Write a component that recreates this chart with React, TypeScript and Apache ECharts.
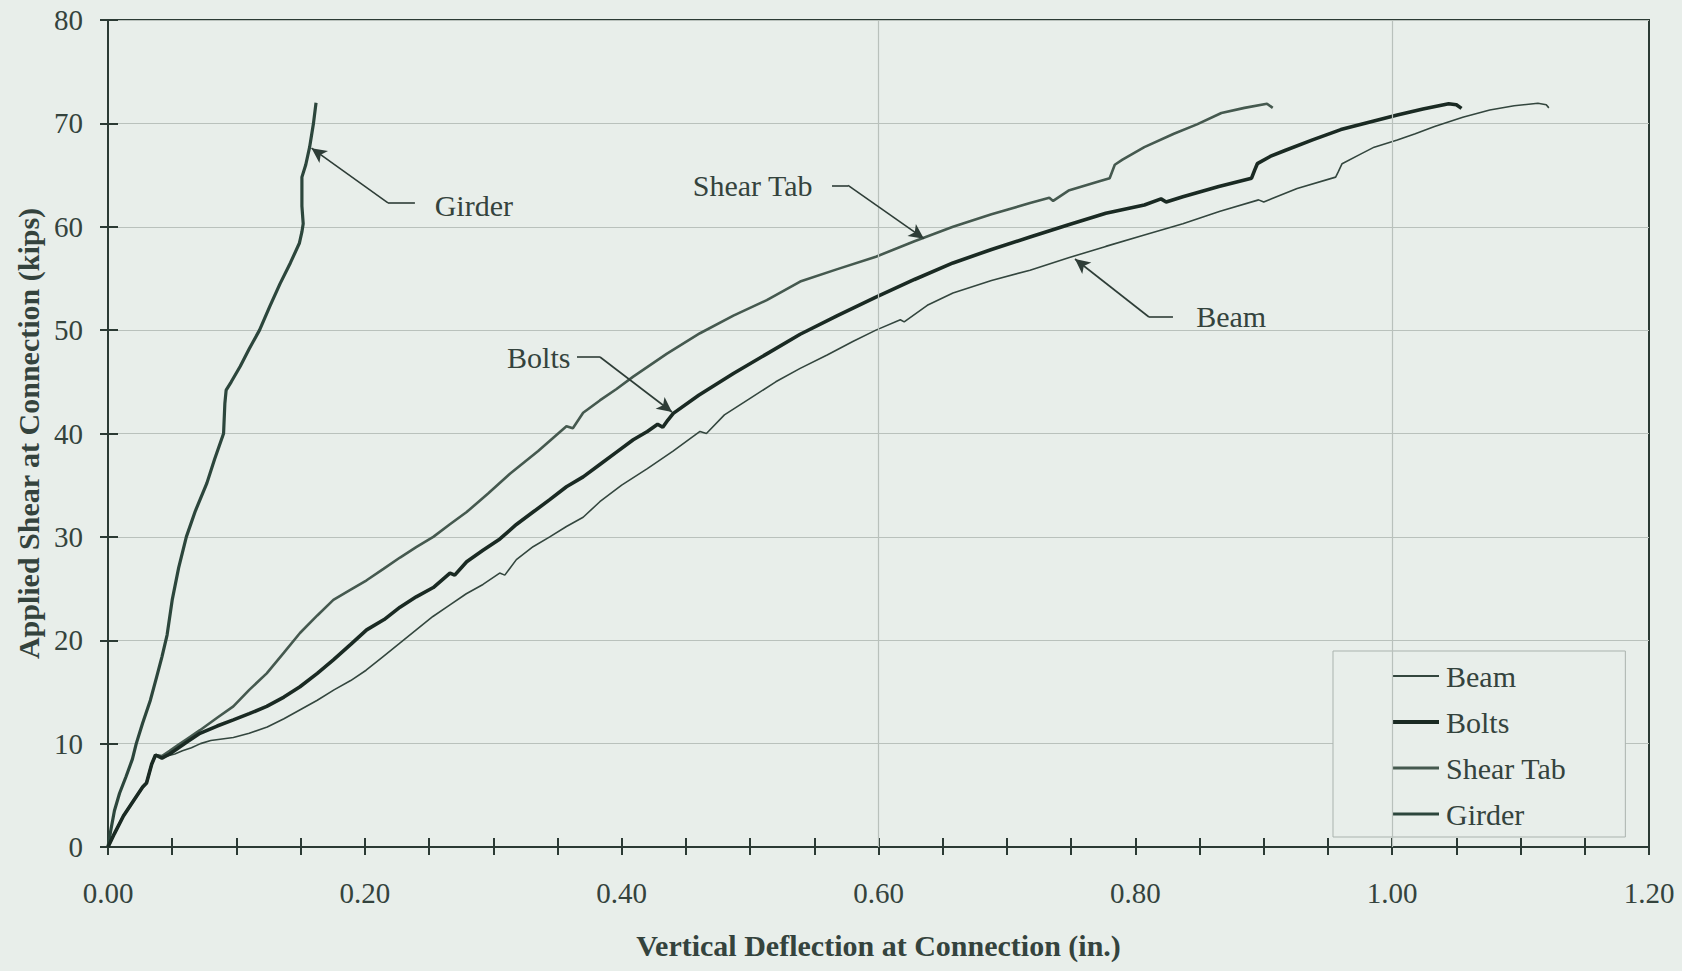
import React, { useEffect, useRef } from "react";
import * as echarts from "echarts";

// ---- axis settings ----
const X_MIN = 0;
const X_MAX = 1.2;
const X_STEP = 0.2;
const Y_MIN = 0;
const Y_MAX = 80;
const Y_STEP = 10;
const X_NAME = "Vertical Deflection at Connection (in.)";
const Y_NAME = "Applied Shear at Connection (kips)";
const SERIES_NAMES = ["Beam", "Bolts", "Shear Tab", "Girder"];
const V_GRID_AT = [0.6, 1.0];

// ---- data: [deflection (in.), shear (kips)] ----
const BEAM: number[][] = [
  [0, 0], [0.005, 1.3], [0.012, 3], [0.02, 4.5], [0.027, 5.8], [0.03, 6.2], [0.034, 8.0], [0.037, 8.9],
  [0.042, 8.6], [0.046, 8.8], [0.052, 9.0], [0.058, 9.3], [0.065, 9.6], [0.072, 10.0], [0.08, 10.3],
  [0.0976, 10.6], [0.11, 11.0], [0.124, 11.6], [0.137, 12.4], [0.15, 13.3], [0.163, 14.2], [0.176, 15.2],
  [0.189, 16.1], [0.201, 17.1], [0.214, 18.4], [0.227, 19.7], [0.24, 21.0], [0.253, 22.3], [0.266, 23.4],
  [0.279, 24.5], [0.292, 25.4], [0.305, 26.5], [0.309, 26.3], [0.318, 27.8], [0.331, 29.05], [0.344, 30.0],
  [0.357, 31.0], [0.37, 31.9], [0.383, 33.4], [0.4, 35.0], [0.42, 36.6], [0.44, 38.3], [0.461, 40.2],
  [0.466, 40.0], [0.48, 41.8], [0.5, 43.4], [0.52, 45.0], [0.539, 46.3], [0.56, 47.6], [0.58, 48.9],
  [0.598, 50.0], [0.617, 51.0], [0.62, 50.8], [0.638, 52.4], [0.658, 53.6], [0.688, 54.8], [0.718, 55.8],
  [0.748, 57.0], [0.777, 58.1], [0.807, 59.2], [0.837, 60.3], [0.866, 61.5], [0.896, 62.6], [0.9, 62.4],
  [0.926, 63.7], [0.956, 64.8], [0.958, 65.3], [0.961, 66.1], [0.975, 67.0], [0.986, 67.7], [1.004, 68.4],
  [1.018, 69.0], [1.033, 69.7], [1.055, 70.6], [1.076, 71.3], [1.095, 71.7], [1.1135, 71.94], [1.12, 71.8],
  [1.122, 71.5],
];

const BOLTS: number[][] = [
  [0, 0], [0.005, 1.3], [0.012, 3], [0.02, 4.5], [0.027, 5.8], [0.03, 6.2], [0.034, 8.0], [0.037, 8.9],
  [0.042, 8.6], [0.048, 9.0], [0.055, 9.6], [0.062, 10.2], [0.0716, 11.0], [0.085, 11.7], [0.0976, 12.3],
  [0.11, 12.9], [0.1236, 13.6], [0.137, 14.5], [0.1495, 15.5], [0.163, 16.8], [0.1755, 18.1], [0.189, 19.6],
  [0.2014, 21.0], [0.215, 22.0], [0.2274, 23.2], [0.24, 24.2], [0.2533, 25.1], [0.2663, 26.5], [0.27, 26.3],
  [0.2793, 27.6], [0.292, 28.7], [0.3052, 29.8], [0.318, 31.2], [0.331, 32.4], [0.344, 33.6], [0.357, 34.85],
  [0.37, 35.8], [0.383, 37.0], [0.396, 38.2], [0.409, 39.4], [0.42, 40.2], [0.428, 40.9], [0.432, 40.6],
  [0.436, 41.3], [0.4402, 41.95], [0.46, 43.7], [0.487, 45.8], [0.513, 47.7], [0.539, 49.6], [0.568, 51.4],
  [0.598, 53.2], [0.628, 54.9], [0.658, 56.5], [0.688, 57.8], [0.718, 59.0], [0.748, 60.2], [0.777, 61.3],
  [0.807, 62.1], [0.82, 62.7], [0.824, 62.4], [0.837, 62.9], [0.865, 63.9], [0.8905, 64.7], [0.893, 65.5],
  [0.895, 66.1], [0.905, 66.8], [0.917, 67.4], [0.938, 68.4], [0.96, 69.4], [0.982, 70.1], [1.004, 70.8],
  [1.024, 71.4], [1.044, 71.9], [1.05, 71.8], [1.054, 71.45],
];

const SHEAR_TAB: number[][] = [
  [0, 0], [0.005, 1.3], [0.012, 3], [0.02, 4.5], [0.027, 5.8], [0.03, 6.2], [0.034, 8.0], [0.037, 8.9],
  [0.042, 8.8], [0.048, 9.3], [0.055, 9.9], [0.062, 10.5], [0.0716, 11.3], [0.085, 12.5], [0.0976, 13.6],
  [0.11, 15.2], [0.1236, 16.8], [0.137, 18.8], [0.1495, 20.7], [0.163, 22.4], [0.1755, 23.9], [0.189, 24.9],
  [0.2014, 25.8], [0.2145, 26.9], [0.2274, 28.0], [0.24, 29.0], [0.2533, 30.0], [0.266, 31.2], [0.2793, 32.4],
  [0.296, 34.2], [0.313, 36.1], [0.335, 38.3], [0.357, 40.7], [0.362, 40.5], [0.37, 42.0], [0.383, 43.2],
  [0.396, 44.3], [0.409, 45.5], [0.435, 47.7], [0.461, 49.7], [0.487, 51.4], [0.513, 52.9], [0.539, 54.7],
  [0.568, 55.9], [0.598, 57.1], [0.628, 58.6], [0.658, 60.0], [0.688, 61.2], [0.718, 62.3], [0.733, 62.8],
  [0.736, 62.5], [0.748, 63.5], [0.772, 64.4], [0.78, 64.7], [0.784, 66.0], [0.79, 66.5], [0.807, 67.7],
  [0.83, 69.0], [0.848, 69.9], [0.867, 71.0], [0.885, 71.5], [0.9025, 71.9], [0.907, 71.5],
];

const GIRDER: number[][] = [
  [0, 0], [0.002, 1.5], [0.005, 3.5], [0.009, 5.2], [0.014, 6.8], [0.019, 8.5], [0.022, 10], [0.027, 12],
  [0.033, 14.2], [0.038, 16.5], [0.042, 18.4], [0.046, 20.5], [0.05, 23.9], [0.055, 27], [0.061, 30],
  [0.068, 32.5], [0.077, 35.2], [0.083, 37.5], [0.09, 40], [0.091, 42.9], [0.092, 44.2], [0.096, 45],
  [0.103, 46.5], [0.11, 48.2], [0.118, 50], [0.126, 52.3], [0.134, 54.5], [0.142, 56.5], [0.149, 58.4],
  [0.151, 59.5], [0.152, 60.3], [0.151, 62], [0.151, 64.8], [0.154, 66], [0.157, 67.7], [0.16, 70],
  [0.162, 72],
];

// ---- annotations (data space) ----
const ANNO_TEXT = ["Girder", "Shear Tab", "Bolts", "Beam"];
const ANNO_TEXT_AT: number[][] = [[0.254, 62.1], [0.549, 64.0], [0.3605, 47.4], [0.847, 51.3]];
const ANNO_TEXT_SIDE = ["right", "left", "left", "right"];
const ANNO_LEAD_START: number[][] = [[0.239, 62.3], [0.5638, 64.0], [0.3652, 47.4], [0.8293, 51.27]];
const ANNO_BEND: number[][] = [[0.218, 62.3], [0.5763, 64.0], [0.3831, 47.4], [0.8106, 51.27]];
const ANNO_TIP: number[][] = [[0.1585, 67.6], [0.6354, 58.85], [0.4392, 42.08], [0.753, 56.88]];

const FONT = '"Liberation Serif", "Times New Roman", serif';
const INK = "#34433d";
const AXIS = "#2b3a34";
const BG = "#e8eeea";

const LINE_COLORS = ["#33463e", "#1a2a23", "#45594f", "#2c463c"];
const LINE_WIDTHS = [1.6, 3.6, 2.6, 3.2];
const LEGEND_WIDTHS = [1.8, 4, 3, 3];

export default function App() {
  const ref = useRef<HTMLDivElement>(null);

  useEffect(() => {
    if (!ref.current) return;
    const chart = echarts.init(ref.current, undefined, { renderer: "svg" });

    const tickStyle = { color: AXIS, width: 2 };
    const xBase = { type: "value", min: X_MIN, max: X_MAX, interval: X_STEP, position: "bottom" };
    const yBase = { type: "value", min: Y_MIN, max: Y_MAX, interval: Y_STEP, position: "left" };

    const leaders: any[] = [];
    ANNO_TEXT.forEach((_, i) => {
      leaders.push([{ coord: ANNO_LEAD_START[i] }, { coord: ANNO_BEND[i] }]);
      leaders.push([
        { coord: ANNO_BEND[i] },
        { coord: ANNO_TIP[i], symbol: "arrow", symbolSize: [11, 15] },
      ]);
    });

    const seriesData = [BEAM, BOLTS, SHEAR_TAB, GIRDER];
    const dataSeries = SERIES_NAMES.map((name, i) => ({
      name,
      type: "line",
      data: seriesData[i],
      symbol: "none",
      z: name === "Bolts" ? 4 : 3,
      lineStyle: { width: LINE_WIDTHS[i], color: LINE_COLORS[i] },
      itemStyle: { color: LINE_COLORS[i] },
    }));

    const option: any = {
      animation: false,
      backgroundColor: BG,
      grid: {
        left: 108,
        top: 20,
        right: 33,
        bottom: 124,
        show: true,
        borderColor: AXIS,
        borderWidth: 2,
        backgroundColor: "transparent",
      },
      legend: {
        orient: "vertical",
        left: 1333,
        top: 651,
        padding: [10, 59, 8, 58],
        itemGap: 16,
        itemWidth: 46,
        itemHeight: 14,
        backgroundColor: BG,
        borderColor: "#aab3ae",
        borderWidth: 1,
        borderRadius: 0,
        data: SERIES_NAMES.map((name, i) => ({
          name,
          lineStyle: { width: LEGEND_WIDTHS[i], color: LINE_COLORS[i] },
        })),
        itemStyle: { opacity: 0 },
        textStyle: { fontFamily: FONT, fontSize: 30, color: INK, lineHeight: 30, padding: [0, 0, 0, 2] },
      },
      xAxis: [
        {
          ...xBase,
          name: X_NAME,
          nameLocation: "middle",
          nameGap: 83,
          nameTextStyle: { fontFamily: FONT, fontSize: 30, fontWeight: "bold", color: INK },
          axisLine: { show: true, onZero: false, lineStyle: { color: AXIS, width: 2 } },
          axisTick: { show: true, inside: false, length: 8, lineStyle: tickStyle },
          minorTick: { show: true, splitNumber: 4, length: 8, lineStyle: tickStyle },
          axisLabel: {
            margin: 31,
            fontFamily: FONT,
            fontSize: 29,
            color: INK,
            formatter: (v: number) => v.toFixed(2),
          },
          splitLine: { show: false },
        },
        {
          ...xBase,
          axisLine: { show: false, onZero: false },
          axisTick: { show: true, inside: true, length: 9, lineStyle: tickStyle },
          minorTick: { show: true, splitNumber: 4, length: 9, lineStyle: tickStyle },
          axisLabel: { show: false },
          splitLine: { show: false },
        },
      ],
      yAxis: [
        {
          ...yBase,
          name: Y_NAME,
          nameLocation: "middle",
          nameGap: 64,
          nameTextStyle: { fontFamily: FONT, fontSize: 30, fontWeight: "bold", color: INK },
          axisLine: { show: true, onZero: false, lineStyle: { color: AXIS, width: 2 } },
          axisTick: { show: true, inside: false, length: 8, lineStyle: tickStyle },
          axisLabel: { margin: 25, fontFamily: FONT, fontSize: 29, color: INK },
          splitLine: { show: true, lineStyle: { color: "#b9c1bc", width: 1.2 } },
        },
        {
          ...yBase,
          axisLine: { show: false, onZero: false },
          axisTick: { show: true, inside: true, length: 10, lineStyle: tickStyle },
          axisLabel: { show: false },
          splitLine: { show: false },
        },
      ],
      series: [
        {
          name: "gridlines",
          type: "line",
          data: [],
          symbol: "none",
          silent: true,
          z: 1,
          markLine: {
            silent: true,
            symbol: ["none", "none"],
            label: { show: false },
            lineStyle: { color: "#b9c1bc", width: 1.2, type: "solid" },
            data: V_GRID_AT.map((v) => ({ xAxis: v })),
          },
        },
        ...dataSeries,
        {
          name: "annotations",
          type: "line",
          data: [],
          symbol: "none",
          silent: true,
          z: 5,
          markLine: {
            silent: true,
            symbol: ["none", "none"],
            label: { show: false },
            lineStyle: { color: "#2e3d37", width: 1.6, type: "solid" },
            data: leaders,
          },
          markPoint: {
            silent: true,
            symbol: "rect",
            symbolSize: [1, 1],
            itemStyle: { color: "rgba(0,0,0,0)" },
            data: ANNO_TEXT.map((t, i) => ({
              coord: ANNO_TEXT_AT[i],
              label: {
                show: true,
                position: ANNO_TEXT_SIDE[i],
                distance: 0,
                formatter: t,
                fontFamily: FONT,
                fontSize: 30,
                color: INK,
              },
            })),
          },
        },
      ],
    };

    chart.setOption(option);
    return () => chart.dispose();
  }, []);

  return (
    <div
      ref={ref}
      style={{ position: "fixed", left: 0, top: 0, width: 1682, height: 971 }}
    />
  );
}
